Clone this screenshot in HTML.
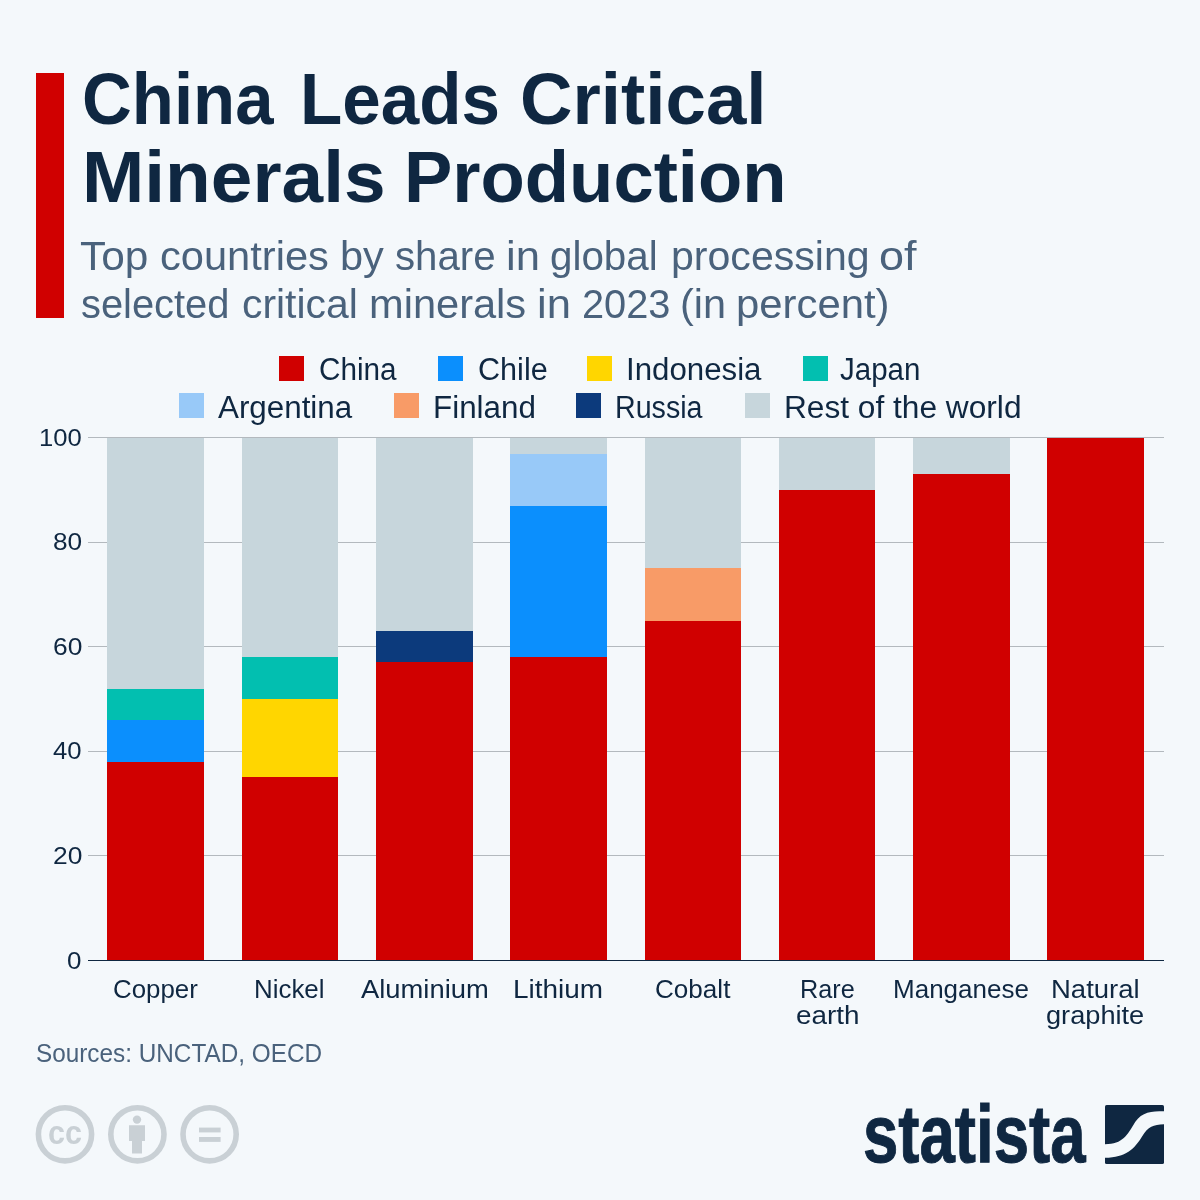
<!DOCTYPE html>
<html lang="en">
<head>
<meta charset="utf-8">
<title>China Leads Critical Minerals Production</title>
<style>
html,body{margin:0;padding:0;background:#f4f8fb;}
body{width:1200px;height:1200px;position:relative;overflow:hidden;font-family:"Liberation Sans",Arial,sans-serif;}
.t{position:absolute;white-space:nowrap;line-height:1;transform-origin:0 0;margin:0;padding:0;}
h1,p{margin:0;}
h1 .t{font-weight:bold;color:#0f2741;}
.sub .t,.src{color:#4a627c;}
.leg,.yl,.xl{color:#0f2741;}
.accent{position:absolute;left:36px;top:73px;width:28px;height:245px;background:#d00000;}
.sq{position:absolute;width:25px;height:25px;}
.grid{position:absolute;left:88px;width:1075.5px;height:1px;background:#b3b9be;}
.axis{position:absolute;left:88px;width:1075.5px;height:1.3px;background:#0f2741;top:959.8px;}
.seg{position:absolute;}
.c-china{background:#d00000;}
.c-chile{background:#0b8ffd;}
.c-indo{background:#ffd600;}
.c-japan{background:#02bfb0;}
.c-arg{background:#98c9f8;}
.c-fin{background:#f89b67;}
.c-rus{background:#0c3a7c;}
.c-rest{background:#c7d6dc;}
</style>
</head>
<body>
<div class="accent"></div>
<header>
<h1>
<span class="t w" style="left:81.85px;top:63.00px;font-size:72px;transform:scaleX(0.9573)">China</span>
<span class="t w" style="left:299.87px;top:63.00px;font-size:72px;transform:scaleX(0.9613)">Leads</span>
<span class="t w" style="left:519.83px;top:63.00px;font-size:72px;transform:scaleX(1.0102)">Critical</span>
<span class="t w" style="left:81.57px;top:141.00px;font-size:72px;transform:scaleX(1.0392)">Minerals</span>
<span class="t w" style="left:404.47px;top:141.00px;font-size:72px;transform:scaleX(1.0068)">Production</span>
</h1>
<p class="sub">
<span class="t w" style="left:79.64px;top:236.00px;font-size:40px;transform:scaleX(1.0595)">Top</span>
<span class="t w" style="left:159.95px;top:236.00px;font-size:40px;transform:scaleX(1.0403)">countries</span>
<span class="t w" style="left:339.91px;top:236.00px;font-size:40px;transform:scaleX(1.0378)">by</span>
<span class="t w" style="left:394.87px;top:236.00px;font-size:40px;transform:scaleX(1.0045)">share</span>
<span class="t w" style="left:506.03px;top:236.00px;font-size:40px;transform:scaleX(1.0896)">in</span>
<span class="t w" style="left:549.99px;top:236.00px;font-size:40px;transform:scaleX(1.0085)">global</span>
<span class="t w" style="left:671.18px;top:236.00px;font-size:40px;transform:scaleX(1.0268)">processing</span>
<span class="t w" style="left:878.59px;top:236.00px;font-size:40px;transform:scaleX(1.1242)">of</span>
<span class="t w" style="left:80.88px;top:284.00px;font-size:40px;transform:scaleX(0.9958)">selected</span>
<span class="t w" style="left:242.47px;top:284.00px;font-size:40px;transform:scaleX(1.0210)">critical</span>
<span class="t w" style="left:368.65px;top:284.00px;font-size:40px;transform:scaleX(1.0397)">minerals</span>
<span class="t w" style="left:537.28px;top:284.00px;font-size:40px;transform:scaleX(1.0896)">in</span>
<span class="t w" style="left:581.89px;top:284.00px;font-size:40px;transform:scaleX(0.9943)">2023</span>
<span class="t w" style="left:680.06px;top:284.00px;font-size:40px;transform:scaleX(1.0352)">(in</span>
<span class="t w" style="left:736.13px;top:284.00px;font-size:40px;transform:scaleX(1.0463)">percent)</span>
</p>
</header>
<section class="legend">
<span class="sq c-china" style="left:279.3px;top:355.5px"></span><span class="t leg" style="left:318.81px;top:354.00px;font-size:31px;transform:scaleX(0.9581)">China</span>
<span class="sq c-chile" style="left:438.3px;top:355.5px"></span><span class="t leg" style="left:477.57px;top:354.00px;font-size:31px;transform:scaleX(0.9863)">Chile</span>
<span class="sq c-indo" style="left:587px;top:355.5px"></span><span class="t leg" style="left:625.56px;top:354.00px;font-size:31px;transform:scaleX(1.0078)">Indonesia</span>
<span class="sq c-japan" style="left:803.25px;top:355.5px"></span><span class="t leg" style="left:839.54px;top:354.00px;font-size:31px;transform:scaleX(0.9515)">Japan</span>
<span class="sq c-arg" style="left:178.5px;top:393.2px"></span><span class="t leg" style="left:218.30px;top:392.00px;font-size:31px;transform:scaleX(1.0113)">Argentina</span>
<span class="sq c-fin" style="left:394.3px;top:393.2px"></span><span class="t leg" style="left:432.55px;top:392.00px;font-size:31px;transform:scaleX(1.0127)">Finland</span>
<span class="sq c-rus" style="left:575.5px;top:393.2px"></span><span class="t leg" style="left:615.26px;top:392.00px;font-size:31px;transform:scaleX(0.9240)">Russia</span>
<span class="sq c-rest" style="left:744.5px;top:393.2px"></span><span class="t leg" style="left:783.78px;top:392.00px;font-size:31px;transform:scaleX(1.0210)">Rest of the world</span>
</section>
<section class="chart">
<div class="grid" style="top:437px"></div>
<div class="grid" style="top:542px"></div>
<div class="grid" style="top:646px"></div>
<div class="grid" style="top:751px"></div>
<div class="grid" style="top:855px"></div>
<div class="axis"></div>
<div class="seg c-rest" style="left:107.30px;top:437.85px;width:96.7px;height:522.55px"></div>
<div class="seg c-japan" style="left:107.30px;top:688.53px;width:96.7px;height:271.87px"></div>
<div class="seg c-chile" style="left:107.30px;top:719.87px;width:96.7px;height:240.53px"></div>
<div class="seg c-china" style="left:107.30px;top:761.64px;width:96.7px;height:198.75px"></div>
<div class="seg c-rest" style="left:241.60px;top:437.85px;width:96.7px;height:522.55px"></div>
<div class="seg c-japan" style="left:241.60px;top:657.19px;width:96.7px;height:303.21px"></div>
<div class="seg c-indo" style="left:241.60px;top:698.98px;width:96.7px;height:261.42px"></div>
<div class="seg c-china" style="left:241.60px;top:777.31px;width:96.7px;height:183.09px"></div>
<div class="seg c-rest" style="left:375.90px;top:437.85px;width:96.7px;height:522.55px"></div>
<div class="seg c-rus" style="left:375.90px;top:631.08px;width:96.7px;height:329.32px"></div>
<div class="seg c-china" style="left:375.90px;top:662.42px;width:96.7px;height:297.98px"></div>
<div class="seg c-rest" style="left:510.20px;top:437.85px;width:96.7px;height:522.55px"></div>
<div class="seg c-arg" style="left:510.20px;top:453.52px;width:96.7px;height:506.88px"></div>
<div class="seg c-chile" style="left:510.20px;top:505.74px;width:96.7px;height:454.66px"></div>
<div class="seg c-china" style="left:510.20px;top:657.19px;width:96.7px;height:303.21px"></div>
<div class="seg c-rest" style="left:644.50px;top:437.85px;width:96.7px;height:522.55px"></div>
<div class="seg c-fin" style="left:644.50px;top:568.41px;width:96.7px;height:391.99px"></div>
<div class="seg c-china" style="left:644.50px;top:620.64px;width:96.7px;height:339.76px"></div>
<div class="seg c-rest" style="left:778.80px;top:437.85px;width:96.7px;height:522.55px"></div>
<div class="seg c-china" style="left:778.80px;top:490.07px;width:96.7px;height:470.32px"></div>
<div class="seg c-rest" style="left:913.10px;top:437.85px;width:96.7px;height:522.55px"></div>
<div class="seg c-china" style="left:913.10px;top:474.41px;width:96.7px;height:485.99px"></div>
<div class="seg c-china" style="left:1047.40px;top:437.85px;width:96.7px;height:522.55px"></div>
<div class="t yl" style="left:39.22px;top:426.00px;font-size:24.5px;transform:scaleX(1.0458)">100</div>
<div class="t yl" style="left:52.83px;top:530.00px;font-size:24.5px;transform:scaleX(1.0701)">80</div>
<div class="t yl" style="left:52.61px;top:635.00px;font-size:24.5px;transform:scaleX(1.0786)">60</div>
<div class="t yl" style="left:53.38px;top:739.00px;font-size:24.5px;transform:scaleX(1.0493)">40</div>
<div class="t yl" style="left:52.61px;top:844.00px;font-size:24.5px;transform:scaleX(1.0786)">20</div>
<div class="t yl" style="left:67.30px;top:949.00px;font-size:24.5px;transform:scaleX(1.0593)">0</div>
<div class="t xl" style="left:112.51px;top:977.00px;font-size:25px;transform:scaleX(1.0346)">Copper</div>
<div class="t xl" style="left:254.18px;top:977.00px;font-size:25px;transform:scaleX(1.0363)">Nickel</div>
<div class="t xl" style="left:360.70px;top:977.00px;font-size:25px;transform:scaleX(1.0949)">Aluminium</div>
<div class="t xl" style="left:513.47px;top:977.00px;font-size:25px;transform:scaleX(1.1174)">Lithium</div>
<div class="t xl" style="left:654.75px;top:977.00px;font-size:25px;transform:scaleX(1.0434)">Cobalt</div>
<div class="t xl" style="left:799.68px;top:977.00px;font-size:25px;transform:scaleX(1.0101)">Rare</div>
<div class="t xl" style="left:795.59px;top:1003.00px;font-size:25px;transform:scaleX(1.1144)">earth</div>
<div class="t xl" style="left:892.92px;top:977.00px;font-size:25px;transform:scaleX(1.0404)">Manganese</div>
<div class="t xl" style="left:1051.10px;top:977.00px;font-size:25px;transform:scaleX(1.0996)">Natural</div>
<div class="t xl" style="left:1046.41px;top:1003.00px;font-size:25px;transform:scaleX(1.0868)">graphite</div>
</section>
<footer>
<div class="t src" style="left:35.83px;top:1041.00px;font-size:25px;transform:scaleX(0.9728)">Sources: UNCTAD, OECD</div>
<svg class="cc" width="220" height="70" viewBox="0 0 220 70" style="position:absolute;left:30px;top:1100px">
<g fill="none" stroke="#c9d0d5" stroke-width="5.6">
<circle cx="35" cy="34.3" r="26.6"/>
<circle cx="107.4" cy="34.3" r="26.6"/>
<circle cx="179.6" cy="34.3" r="26.6"/>
</g>
<text x="35" y="43.8" text-anchor="middle" font-family="Liberation Sans, Arial, sans-serif" font-weight="bold" font-size="33" fill="#c9d0d5" textLength="34" lengthAdjust="spacingAndGlyphs">cc</text>
<g fill="#c9d0d5">
<circle cx="107" cy="19.6" r="4.2"/>
<path d="M99 25.3 h16 v15.7 h-3 v12.5 h-10 v-12.5 h-3 z"/>
<rect x="169" y="27.6" width="21.6" height="4.8"/>
<rect x="169" y="37" width="21.6" height="4.9"/>
</g>
</svg>
<div class="t logo" style="left:863.4px;top:1093px;font-size:82px;font-weight:bold;color:#0f2741;-webkit-text-stroke:1px #0f2741;transform:scaleX(0.775)">statista</div>
<svg width="59" height="59" viewBox="0 0 58.7 58.7" style="position:absolute;left:1105px;top:1105px">
<rect width="58.7" height="58.7" rx="1.6" fill="#0f2741"/>
<path d="M0 39.1 C18 39 22 30 30 17 C37 6.5 46 6.2 58.7 6.1 L58.7 19.1 C48 19.5 43 21.5 37 31 C29 44 21 52 0 52.5 Z" fill="#f4f8fb"/>
</svg>
</footer>
</body>
</html>
